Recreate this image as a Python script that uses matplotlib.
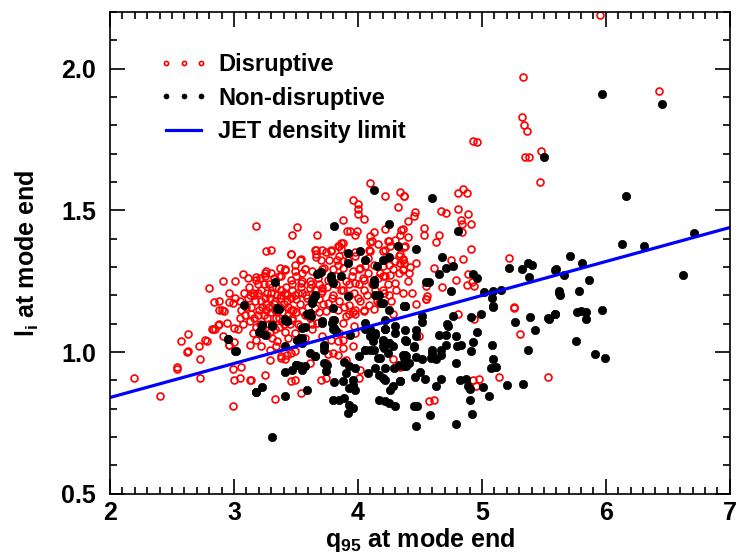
import numpy as np
import matplotlib
matplotlib.use('Agg')
import matplotlib.pyplot as plt
from matplotlib.ticker import MultipleLocator, FormatStrFormatter

plt.rcParams['font.family'] = ['Liberation Sans', 'DejaVu Sans']
plt.rcParams['font.weight'] = 'bold'
plt.rcParams['mathtext.fontset'] = 'custom'
plt.rcParams['mathtext.rm'] = 'Liberation Sans:bold'
plt.rcParams['mathtext.bf'] = 'Liberation Sans:bold'
plt.rcParams['mathtext.it'] = 'Liberation Sans:bold'

# (q95, li)
disruptive = [
    (5.95, 2.19), (6.43, 1.92), (5.48, 1.71), (5.47, 1.60), (5.35, 1.69), (5.38, 1.69),
    (5.33, 1.97), (5.32, 1.83), (5.34, 1.80), (5.36, 1.78), (4.93, 1.745), (4.96, 1.74),
    (3.18, 1.445), (3.07, 1.276), (3.11, 1.26), (3.18, 1.267), (2.91, 1.25), (3.01, 1.25),
    (2.80, 1.225), (2.96, 1.21), (2.84, 1.176), (2.88, 1.18), (2.96, 1.176), (3.01, 1.19),
    (2.88, 1.15), (2.92, 1.147), (2.87, 1.097), (2.82, 1.08), (2.63, 1.064), (2.57, 1.038),
    (2.62, 1.00), (2.72, 1.02), (2.78, 1.04), (2.73, 0.975), (2.54, 0.94), (2.73, 0.91),
    (2.19, 0.91), (2.40, 0.846), (2.99, 0.94), (3.06, 0.948), (3.00, 0.90), (3.05, 0.91),
    (3.13, 0.90), (2.99, 0.81), (2.96, 1.024), (2.91, 1.056), (3.00, 1.035),
    (3.25, 0.92), (3.14, 0.90), (3.46, 0.897), (3.49, 0.90), (3.33, 0.835), (3.54, 0.856),
    (3.70, 0.90), (3.74, 0.909), (3.61, 0.962), (3.76, 0.995), (3.84, 0.991), (4.01, 0.909),
    (4.02, 0.938), (3.96, 1.02), (3.88, 1.044), (3.84, 1.038), (4.28, 0.976), (4.34, 0.95),
    (3.29, 0.971), (3.38, 0.98), (3.41, 0.976), (3.98, 1.133), (3.93, 1.133), (3.96, 1.14),
    (4.05, 1.148), (4.13, 1.153), (4.28, 1.133), (3.97, 1.091), (3.90, 1.127),
    (4.55, 1.186), (4.81, 1.133), (4.94, 1.118), (5.26, 1.157), (5.31, 1.063), (5.14, 0.912),
    (5.53, 0.912), (4.93, 0.90), (4.98, 0.905), (4.95, 0.882), (4.57, 0.826), (4.61, 0.832),
    (4.34, 0.948), (4.49, 1.056),
    (4.81, 1.56), (4.85, 1.577), (4.88, 1.563), (4.37, 1.55), (4.46, 1.494), (4.45, 1.48),
    (4.67, 1.498), (4.71, 1.492), (4.81, 1.507), (4.89, 1.486), (4.40, 1.462), (4.83, 1.468),
    (4.84, 1.454), (4.91, 1.454), (4.53, 1.439), (4.35, 1.43), (4.53, 1.412), (4.40, 1.407),
    (4.65, 1.415), (4.84, 1.423), (4.63, 1.388), (4.37, 1.372), (4.91, 1.365), (4.33, 1.341),
    (4.36, 1.327), (4.34, 1.315), (4.42, 1.301), (4.47, 1.315), (4.75, 1.327), (4.85, 1.329),
    (4.61, 1.297), (4.36, 1.289), (5.22, 1.333), (4.79, 1.256), (4.68, 1.23), (4.55, 1.235),
    (4.89, 1.277), (4.92, 1.247), (4.94, 1.233), (4.88, 1.238), (4.56, 1.197), (4.55, 1.186),
    (5.26, 1.158),
    (4.10, 1.598), (4.22, 1.551), (4.34, 1.567), (4.37, 1.551), (3.96, 1.536), (4.00, 1.522),
    (4.00, 1.506), (4.00, 1.488), (4.05, 1.47), (4.32, 1.512), (3.88, 1.466), (3.51, 1.441),
    (3.47, 1.415), (3.67, 1.415), (3.91, 1.427), (3.94, 1.427), (3.99, 1.429), (4.13, 1.425),
    (4.22, 1.433), (4.36, 1.433), (4.34, 1.415), (4.10, 1.41), (4.11, 1.392), (3.98, 1.415),
    (3.86, 1.386), (3.84, 1.374), (4.25, 1.392), (4.30, 1.395), (3.26, 1.356), (3.30, 1.359),
    (3.46, 1.345), (3.66, 1.36), (3.74, 1.353), (3.78, 1.36), (3.66, 1.336), (3.54, 1.329),
    (3.98, 1.353), (4.10, 1.356), (4.20, 1.356), (4.22, 1.362), (4.34, 1.345), (4.36, 1.329),
    (3.83, 1.327), (3.88, 1.321), (3.37, 1.297), (3.41, 1.292), (3.57, 1.292), (4.06, 1.303),
    (4.01, 1.292), (4.28, 1.292), (4.36, 1.292), (3.18, 1.256), (3.25, 1.28), (3.19, 1.239),
    (3.38, 1.268), (3.50, 1.268), (3.73, 1.297), (3.84, 1.309), (4.16, 1.262), (4.22, 1.268),
    (4.01, 1.239), (3.93, 1.239), (4.30, 1.244), (3.61, 1.227), (3.71, 1.227), (4.14, 1.221),
    (4.21, 1.209), (4.36, 1.209),
    (3.49, 1.309), (3.26, 1.286), (3.41, 1.289), (3.13, 1.203), (3.15, 1.209), (2.90, 1.15),
    (3.06, 1.15), (3.09, 1.168), (2.99, 1.174), (3.05, 1.121), (3.14, 1.133), (2.88, 1.10),
    (2.94, 1.103), (2.83, 1.08), (2.85, 1.082), (3.00, 1.085), (3.03, 1.08), (2.77, 1.042),
    (2.63, 1.003), (2.96, 1.027), (3.15, 1.068), (3.18, 1.044), (3.22, 1.02), (3.13, 1.027),
    (3.29, 1.009), (3.34, 1.02), (3.38, 0.985), (3.43, 0.991), (2.54, 0.948),
    (3.85, 1.376), (3.88, 1.386), (3.86, 1.365), (4.10, 1.388), (4.09, 1.36), (4.16, 1.383),
    (4.24, 1.392), (4.26, 1.374), (4.38, 1.376), (3.65, 1.362), (3.71, 1.362), (3.78, 1.356),
    (3.46, 1.345), (3.53, 1.327), (3.57, 1.292), (3.66, 1.345), (3.70, 1.327), (3.77, 1.327),
    (3.85, 1.339), (3.92, 1.327), (3.98, 1.339), (4.08, 1.333), (4.13, 1.306), (4.20, 1.303),
    (4.25, 1.309), (4.30, 1.321), (4.37, 1.315), (3.49, 1.286), (3.55, 1.28), (3.63, 1.286),
    (3.71, 1.292), (3.80, 1.292), (3.88, 1.297), (3.96, 1.286), (4.02, 1.297), (4.08, 1.28),
    (4.20, 1.268), (4.26, 1.274), (4.33, 1.28), (4.41, 1.28), (3.46, 1.256), (3.54, 1.245),
    (3.61, 1.25), (3.69, 1.239), (3.76, 1.256), (3.82, 1.239), (3.90, 1.25), (3.98, 1.245),
    (4.05, 1.256), (4.12, 1.239), (3.47, 1.221), (3.55, 1.209), (3.65, 1.221), (3.71, 1.215),
    (3.80, 1.203), (3.88, 1.221), (3.97, 1.209), (4.05, 1.221), (4.20, 1.221), (4.25, 1.203),
    (3.50, 1.186), (3.59, 1.192), (3.69, 1.186), (3.76, 1.174), (3.85, 1.18), (3.93, 1.168),
    (4.02, 1.18), (4.09, 1.168), (4.17, 1.174), (3.46, 1.15), (3.55, 1.144), (3.65, 1.156),
    (3.74, 1.144), (3.84, 1.15), (3.98, 1.15), (4.05, 1.144), (3.47, 1.115), (3.53, 1.091),
    (3.61, 1.121), (3.67, 1.103), (3.80, 1.115), (3.88, 1.103), (3.49, 1.068), (3.57, 1.05),
    (3.63, 1.08), (3.71, 1.056), (3.78, 1.044), (3.85, 1.068), (3.88, 1.015), (3.80, 0.997),
    (3.74, 0.962), (3.90, 0.974), (3.46, 0.997), (3.49, 1.003), (3.98, 1.068),
    (3.22, 1.22), (3.25, 1.19), (3.28, 1.16), (3.30, 1.21), (3.33, 1.18), (3.35, 1.14),
    (3.38, 1.20), (3.40, 1.17), (3.42, 1.23), (3.44, 1.13), (3.27, 1.12), (3.31, 1.10),
    (3.36, 1.09), (3.20, 1.15), (3.17, 1.18), (3.24, 1.24), (3.32, 1.26), (3.46, 1.19),
    (3.48, 1.15), (3.52, 1.21), (3.39, 1.11), (3.29, 1.07), (3.21, 1.10), (3.34, 1.23),
    (3.26, 1.17), (3.37, 1.16), (3.43, 1.20), (3.19, 1.21), (3.14, 1.16), (3.11, 1.19),
    (3.16, 1.12), (3.23, 1.08), (3.31, 1.05), (3.41, 1.07), (3.45, 1.10), (3.36, 1.27),
    (3.28, 1.24), (3.12, 1.23), (3.09, 1.13), (3.07, 1.10), (3.47, 1.24), (3.53, 1.17),
    (3.55, 1.25), (3.58, 1.20), (3.60, 1.16), (3.62, 1.24), (3.64, 1.19), (3.68, 1.26),
    (3.70, 1.21), (3.72, 1.17), (3.57, 1.13), (3.63, 1.10), (3.69, 1.14), (3.75, 1.23),
    (3.79, 1.19), (3.82, 1.27), (3.86, 1.22), (3.89, 1.16), (3.93, 1.20), (3.95, 1.27),
    (4.00, 1.19), (4.04, 1.26), (4.07, 1.20), (4.11, 1.24), (4.15, 1.18), (4.18, 1.28),
    (4.24, 1.24), (4.27, 1.18), (4.31, 1.22), (4.40, 1.25), (4.44, 1.21), (4.47, 1.17),
    (3.24, 1.13), (3.27, 1.21), (3.30, 1.14), (3.32, 1.17), (3.34, 1.12), (3.37, 1.19),
    (3.39, 1.14), (3.41, 1.21), (3.44, 1.16), (3.26, 1.15), (3.29, 1.19), (3.31, 1.23),
    (3.35, 1.20), (3.38, 1.22), (3.40, 1.10), (3.33, 1.08), (3.28, 1.10), (3.22, 1.18),
    (3.19, 1.13), (3.16, 1.20), (3.13, 1.11), (3.21, 1.26), (3.25, 1.27), (3.36, 1.12),
    (3.43, 1.18), (3.47, 1.12), (3.50, 1.14), (3.52, 1.10), (3.18, 1.09), (3.10, 1.16),
    (3.08, 1.21), (3.05, 1.18), (3.27, 1.06), (3.35, 1.04), (3.44, 1.05), (3.49, 1.20),
    (3.54, 1.23), (3.30, 1.28), (3.23, 1.16), (3.33, 1.15),
]

non_disruptive = [
    (5.97, 1.91), (6.45, 1.875), (5.50, 1.69), (6.16, 1.55), (6.71, 1.42), (4.13, 1.571),
    (4.60, 1.544), (3.81, 1.445), (4.25, 1.454), (4.32, 1.374),
    (3.08, 1.167), (3.01, 1.003), (2.95, 1.047), (3.18, 0.858), (3.20, 1.07),
    (3.36, 1.153), (3.23, 1.097), (3.31, 1.096), (3.22, 1.068), (3.25, 1.062), (3.41, 1.112),
    (3.43, 1.109), (3.61, 1.138), (3.63, 1.174), (3.55, 1.085), (3.53, 1.05), (3.55, 1.033),
    (3.71, 1.103), (3.79, 1.103), (3.81, 1.115), (3.80, 1.08), (3.73, 1.027), (3.73, 1.009),
    (3.61, 0.997), (3.65, 0.985), (3.50, 0.956), (3.53, 0.95), (3.55, 0.938), (3.47, 0.938),
    (3.41, 0.929), (3.75, 0.956), (3.74, 0.932), (3.89, 0.967), (3.90, 0.927), (3.93, 0.95),
    (3.98, 0.944), (3.96, 0.903), (3.88, 0.897), (3.81, 0.893), (3.93, 0.873), (3.98, 0.867),
    (3.96, 0.885), (3.23, 0.877), (3.18, 0.858), (3.59, 0.867), (3.41, 0.844), (3.80, 0.832),
    (3.85, 0.832), (3.89, 0.838), (3.93, 0.814), (3.96, 0.803), (3.92, 0.785), (3.31, 0.702),
    (4.19, 1.174), (4.37, 1.162), (4.25, 1.15), (4.22, 1.115), (4.06, 1.08), (4.10, 1.056),
    (4.14, 1.068), (4.12, 1.038), (4.22, 1.08), (4.30, 1.068), (4.20, 1.038), (4.25, 1.033),
    (4.39, 1.038), (4.21, 1.015), (4.06, 1.009), (4.10, 1.009), (4.24, 0.997), (4.18, 0.98),
    (4.39, 0.985), (4.37, 0.95), (4.14, 0.944), (4.22, 0.944), (4.29, 0.944), (4.08, 0.927),
    (4.17, 0.92), (4.20, 0.909), (4.22, 0.903), (4.34, 0.897), (4.28, 0.882), (4.26, 0.867),
    (4.17, 0.832), (4.22, 0.826), (4.25, 0.82), (4.30, 0.81),
    (4.38, 1.162), (4.52, 1.127), (4.52, 1.105), (4.72, 1.10), (4.73, 1.094), (4.77, 1.129),
    (4.91, 1.124), (4.99, 1.135), (5.09, 1.16), (4.47, 1.077), (4.47, 1.056), (4.39, 1.038),
    (4.45, 1.018), (4.65, 1.062), (4.71, 1.062), (4.79, 1.058), (4.96, 1.07), (4.93, 1.035),
    (4.83, 1.027), (4.80, 1.02), (4.71, 1.027), (4.60, 1.009), (4.67, 1.009), (4.91, 1.003),
    (4.38, 0.991), (4.37, 0.98), (4.47, 0.983), (4.52, 0.976), (4.59, 0.98), (4.63, 0.976),
    (4.67, 0.991), (4.60, 0.997), (4.39, 0.95), (4.50, 0.93), (4.46, 0.912), (4.54, 0.905),
    (4.67, 0.906), (4.34, 0.897), (4.63, 0.879), (4.79, 0.962), (5.08, 1.027), (5.09, 0.976),
    (5.07, 0.944), (5.11, 0.948), (4.82, 0.903), (4.87, 0.905), (4.89, 0.879), (4.90, 0.87),
    (5.01, 0.877), (5.06, 0.844), (4.90, 0.832), (4.92, 0.782), (4.79, 0.747), (4.45, 0.811),
    (4.48, 0.809), (4.58, 0.777), (4.47, 0.74), (5.20, 0.885), (5.33, 0.889), (5.27, 1.108),
    (5.39, 1.124), (5.43, 1.077), (5.54, 1.118), (5.59, 1.133), (5.37, 1.009),
    (6.13, 1.383), (6.31, 1.374), (5.71, 1.339), (5.81, 1.313), (5.60, 1.292), (5.66, 1.274),
    (5.86, 1.256), (6.62, 1.271), (5.62, 1.215), (5.63, 1.203), (5.78, 1.215), (5.53, 1.121),
    (5.59, 1.133), (5.77, 1.141), (5.80, 1.144), (5.84, 1.142), (5.84, 1.117), (5.97, 1.148),
    (5.76, 1.04), (5.91, 0.995), (5.99, 0.978),
    (4.81, 1.429), (4.47, 1.365), (4.68, 1.336), (4.71, 1.297), (4.77, 1.303), (4.65, 1.277),
    (4.55, 1.249), (4.57, 1.249), (4.93, 1.277), (4.96, 1.262), (4.75, 1.217), (5.02, 1.211),
    (5.09, 1.215), (5.15, 1.221), (5.08, 1.192), (5.22, 1.297), (5.32, 1.292), (5.37, 1.313),
    (5.40, 1.309), (5.38, 1.266), (5.59, 1.289), (4.37, 1.164), (5.62, 1.21), (5.09, 1.162),
    (3.92, 1.35), (4.02, 1.356), (4.06, 1.324), (3.92, 1.315), (4.20, 1.324), (4.25, 1.336),
    (4.15, 1.303), (3.67, 1.277), (3.70, 1.282), (3.78, 1.259), (3.80, 1.245), (3.86, 1.27),
    (4.13, 1.256), (4.13, 1.242), (3.33, 1.247), (3.65, 1.197), (3.63, 1.18), (3.92, 1.197),
    (4.14, 1.203), (4.20, 1.174), (4.38, 1.164), (3.35, 1.156),
    (3.35, 1.153), (3.41, 1.117), (3.43, 1.109), (3.23, 1.097), (3.31, 1.094), (3.21, 1.074),
    (2.95, 1.048), (3.02, 1.003), (3.41, 1.023), (3.51, 1.044), (3.50, 0.956),
    (3.69, 1.28), (3.78, 1.268), (3.64, 1.186), (3.65, 1.2), (3.80, 1.156), (4.17, 1.203),
    (3.59, 1.133), (3.62, 1.127), (3.71, 1.109), (3.57, 1.089), (3.80, 1.115), (3.81, 1.085),
    (3.82, 1.074), (3.94, 1.062), (3.73, 1.02), (4.06, 1.103), (4.10, 1.08), (4.14, 1.062),
    (4.20, 1.044), (4.25, 1.033), (4.22, 1.082), (4.30, 1.091), (4.38, 1.077), (3.51, 1.044),
    (3.55, 1.05), (4.06, 1.009), (4.13, 1.009), (4.20, 1.02), (4.28, 1.02), (4.38, 1.044),
    (4.01, 0.985), (4.16, 0.98), (4.36, 0.991), (4.45, 1.02), (3.51, 0.956), (3.57, 0.952),
    (3.65, 0.985), (3.73, 0.962), (4.33, 0.956), (4.41, 0.962),
]

limit_q95 = [2.0, 7.0]
limit_li = [0.84, 1.44]

red_q95, red_li = np.array(disruptive).T
blk_q95, blk_li = np.array(non_disruptive).T

fig = plt.figure(figsize=(7.38, 5.53), dpi=100)
ax = fig.add_axes([0.149, 0.107, 0.840, 0.871])

ax.plot(red_q95, red_li, 'o', ls='none', ms=5, mfc='none', mec='#ff0000', mew=1.2,
        label='Disruptive')
ax.plot(blk_q95, blk_li, 'o', ls='none', ms=6, mfc='black', mec='black', mew=0.5,
        label='Non-disruptive')
ax.plot(limit_q95, limit_li, '-', color='#0000ff', lw=2.3, label='JET density limit')

ax.set_xlim(2, 7)
ax.set_ylim(0.5, 2.2)
ax.xaxis.set_major_locator(MultipleLocator(1))
ax.xaxis.set_minor_locator(MultipleLocator(0.1))
ax.yaxis.set_major_locator(MultipleLocator(0.5))
ax.yaxis.set_minor_locator(MultipleLocator(0.1))
ax.yaxis.set_major_formatter(FormatStrFormatter('%.1f'))
ax.tick_params(which='both', direction='in', top=True, right=True, width=1.2,
               labelsize=18)
ax.tick_params(axis='x', pad=5)
ax.tick_params(axis='y', pad=10)
ax.tick_params(which='major', length=11)
ax.tick_params(which='minor', length=5)
for s in ax.spines.values():
    s.set_linewidth(1.2)
for lab in ax.get_xticklabels() + ax.get_yticklabels():
    lab.set_fontweight('bold')

ax.set_xlabel(r'$\mathbf{q_{95}}$ at mode end', fontsize=18, fontweight='bold')
ax.set_ylabel(r'$\mathbf{l_i}$ at mode end', fontsize=18, fontweight='bold')
ax.xaxis.set_label_coords(0.5, -0.066)
ax.yaxis.set_label_coords(-0.112, 0.5)

leg = ax.legend(loc='upper left', bbox_to_anchor=(0.079, 0.915), frameon=False,
                numpoints=3, markerscale=0.6, handlelength=2.1, handletextpad=0.4,
                labelspacing=0.45, borderpad=0, borderaxespad=0,
                prop={'weight': 'bold', 'size': 17})

fig.savefig('out.png', dpi=100)
